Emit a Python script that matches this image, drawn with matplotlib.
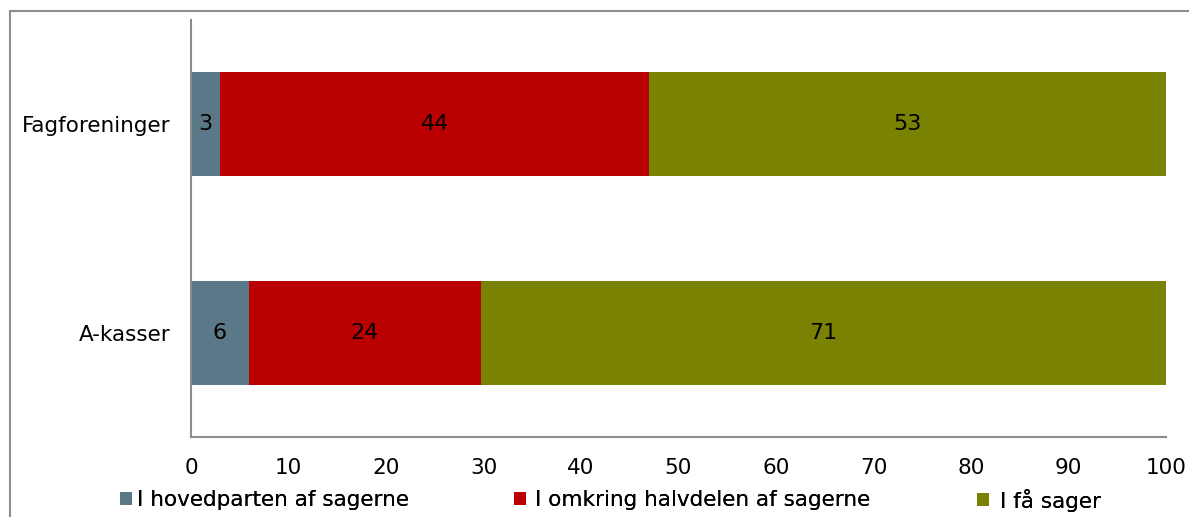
import numpy as np
import matplotlib.pyplot as plt
from matplotlib.patches import Patch, Rectangle

categories = ["A-kasser", "Fagforeninger"]
series = ["I hovedparten af sagerne", "I omkring halvdelen af sagerne", "I få sager"]
hovedparten = [6, 3]
halvdelen = [24, 44]
faa = [71, 53]
colors = ["#5b7888", "#ba0000", "#7a8204"]

vals = np.array([hovedparten, halvdelen, faa], dtype=float)
# bars are stacked to 100 percent
shares = vals / vals.sum(axis=0) * 100

fs = 15.5
fig = plt.figure(figsize=(11.89, 5.17), dpi=100)
ax = fig.add_axes([191 / 1189, 80 / 517, 975 / 1189, 417 / 517])

y = np.arange(len(categories))
left = np.zeros(len(categories))
for i in range(len(series)):
    ax.barh(y, shares[i], left=left, height=0.5, color=colors[i], label=series[i])
    for j in range(len(categories)):
        ax.text(left[j] + shares[i][j] / 2, y[j], f"{int(vals[i][j])}",
                ha="center", va="center", fontsize=16, color="black")
    left += shares[i]

ax.set_xlim(0, 100)
ax.set_ylim(-0.5, 1.5)
ax.set_xticks(range(0, 101, 10))
ax.set_yticks(y)
ax.set_yticklabels(categories)
ax.tick_params(axis="x", length=0, pad=15, labelsize=fs)
ax.tick_params(axis="y", length=0, pad=15, labelsize=fs)
for s in ["top", "right"]:
    ax.spines[s].set_visible(False)
for s in ["left", "bottom"]:
    ax.spines[s].set_color("#8c8c8c")
    ax.spines[s].set_linewidth(1.5)

# legend entries placed one by one, like the original
xs = [120 / 1189, 514 / 1189, 977 / 1189]
pads = [0.22, 0.42, 0.5]
for i in range(len(series)):
    h = Patch(facecolor=colors[i], label=series[i])
    lg = fig.legend(handles=[h], loc="center left", bbox_to_anchor=(xs[i], 1 - 500 / 517),
                    frameon=False, fontsize=fs, handlelength=0.55, handleheight=0.55,
                    handletextpad=pads[i], borderpad=0, borderaxespad=0)
    fig.add_artist(lg)

fig.add_artist(Rectangle((10 / 1189, -0.1), 1.2, 1.1 - 11 / 517, transform=fig.transFigure,
                         fill=False, edgecolor="#8c8c8c", linewidth=1.5))

plt.savefig("out.png", dpi=100)
